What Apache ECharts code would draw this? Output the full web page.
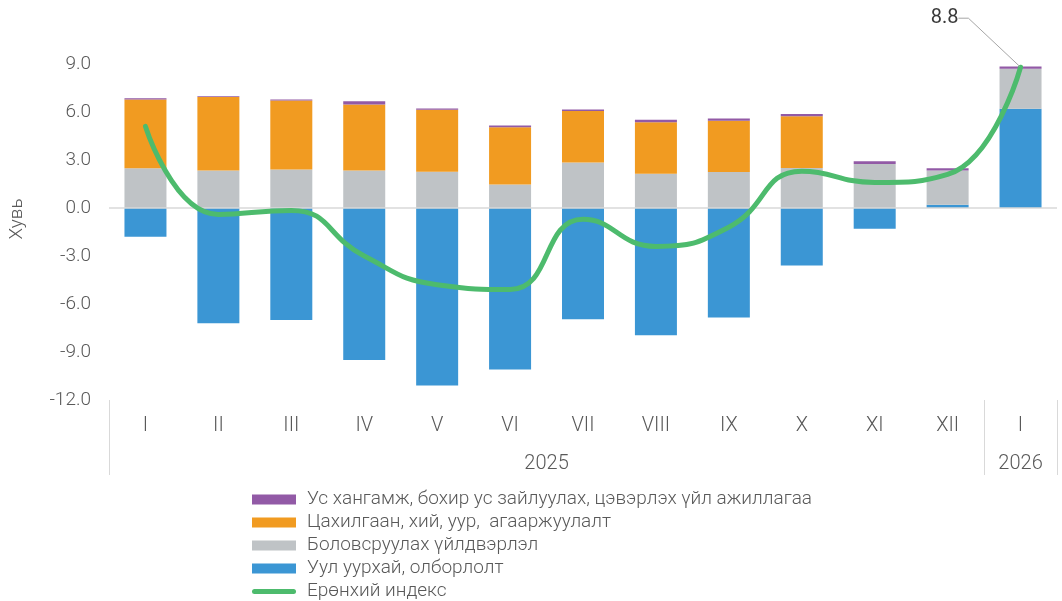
<!DOCTYPE html>
<html>
<head>
<meta charset="utf-8">
<script src="https://cdn.jsdelivr.net/npm/echarts@6/dist/echarts.min.js"></script>
<style>
  html, body { margin: 0; padding: 0; background: #ffffff; }
  #chart { width: 1062px; height: 601px; }
</style>
</head>
<body>
<div id="chart"></div>
<script>
// Month categories and the year groups they belong to
const months = ['I', 'II', 'III', 'IV', 'V', 'VI', 'VII', 'VIII', 'IX', 'X', 'XI', 'XII', 'I'];
const years = ['2025', '2026'];
const yearSpans = [12, 1];

// Contributions by sector, percentage points
const mining = [-1.8, -7.2, -7.0, -9.5, -11.1, -10.1, -6.95, -7.95, -6.85, -3.6, -1.3, 0.2, 6.2];
const manufacturing = [2.49, 2.34, 2.4, 2.34, 2.26, 1.47, 2.84, 2.14, 2.25, 2.5, 2.75, 2.14, 2.5];
const electricity = [4.29, 4.59, 4.32, 4.13, 3.88, 3.58, 3.23, 3.22, 3.2, 3.23, 0, 0, 0];
const water = [0.08, 0.06, 0.06, 0.2, 0.08, 0.11, 0.09, 0.15, 0.15, 0.14, 0.17, 0.15, 0.14];

// Overall index, %
const total = [5.1, -0.4, -0.15, -3.0, -4.8, -5.1, -0.7, -2.4, -1.2, 2.3, 1.6, 2.1, 8.8];

const names = {
  water: 'Ус хангамж, бохир ус зайлуулах, цэвэрлэх үйл ажиллагаа',
  electricity: 'Цахилгаан, хий, уур,  агааржуулалт',
  manufacturing: 'Боловсруулах үйлдвэрлэл',
  mining: 'Уул уурхай, олборлолт',
  total: 'Ерөнхий индекс'
};

const colors = {
  water: '#925aa6',
  electricity: '#f19b21',
  manufacturing: '#bfc3c6',
  mining: '#3b96d4',
  total: '#4dbb6d'
};

// Year group boundaries and label positions on a 0..N scale
const yearBounds = [0];
const yearMids = [];
yearSpans.forEach((s) => {
  const start = yearBounds[yearBounds.length - 1];
  yearMids.push(start + s / 2);
  yearBounds.push(start + s);
});

const FONT = 'Roboto, "Noto Sans", sans-serif';
const WEIGHT = 300;
const TEXT = '#595959';

// Legend key for the index: a thick rounded stroke centred in the 44x10 key box
const LINE_KEY = 'path://M0,0 M44,10 M2.5,2.5 H41.5 A2.5,2.5 0 0 1 41.5,7.5 H2.5 A2.5,2.5 0 0 1 2.5,2.5 Z';

const chart = echarts.init(document.getElementById('chart'), null, { renderer: 'canvas' });

function barSeries(key, data, extra) {
  return Object.assign({
    name: names[key],
    type: 'bar',
    stack: 'sectors',
    data: data,
    barWidth: 42,
    xAxisIndex: 0,
    itemStyle: { color: colors[key] },
    emphasis: { disabled: true }
  }, extra || {});
}

const lastIdx = total.length - 1;

const option = {
  animation: false,
  backgroundColor: '#ffffff',
  textStyle: { fontFamily: FONT, fontWeight: WEIGHT },
  grid: { left: 108, right: 5, top: 64, bottom: 201 },
  legend: {
    orient: 'vertical',
    left: 252,
    top: 490,
    padding: 0,
    itemGap: 4,
    itemWidth: 44,
    itemHeight: 10,
    textStyle: { fontFamily: FONT, fontWeight: WEIGHT, fontSize: 19, color: TEXT, lineHeight: 19, padding: [0, 0, 0, 6] },
    data: [
      { name: names.water, icon: 'rect' },
      { name: names.electricity, icon: 'rect' },
      { name: names.manufacturing, icon: 'rect' },
      { name: names.mining, icon: 'rect' },
      { name: names.total, icon: LINE_KEY, itemStyle: { color: colors.total, borderWidth: 0 } }
    ]
  },
  xAxis: [
    {
      type: 'category',
      data: months,
      position: 'bottom',
      axisLine: { show: false },
      axisTick: { show: false },
      axisLabel: { margin: 16, fontFamily: FONT, fontWeight: WEIGHT, fontSize: 20, color: TEXT }
    },
    {
      type: 'value',
      min: yearBounds[0],
      max: yearBounds[yearBounds.length - 1],
      position: 'bottom',
      axisLine: { show: false },
      splitLine: { show: false },
      axisTick: {
        show: true,
        customValues: yearBounds,
        length: 75,
        lineStyle: { color: '#d9d9d9', width: 1 }
      },
      axisLabel: {
        customValues: yearMids,
        margin: 54,
        fontFamily: FONT,
        fontWeight: WEIGHT,
        fontSize: 20,
        color: TEXT,
        formatter: (v) => {
          const i = yearMids.indexOf(v);
          return i >= 0 ? years[i] : '';
        }
      }
    }
  ],
  yAxis: {
    type: 'value',
    min: -12,
    max: 9,
    interval: 3,
    name: 'Хувь',
    nameLocation: 'middle',
    nameGap: 82,
    nameRotate: 90,
    nameTextStyle: { fontFamily: FONT, fontWeight: WEIGHT, fontSize: 19, color: TEXT, padding: [0, 0, 0, 26] },
    axisLine: { show: false },
    axisTick: { show: false },
    splitLine: { show: false },
    axisLabel: {
      margin: 18,
      fontFamily: FONT,
      fontWeight: WEIGHT,
      fontSize: 19,
      color: TEXT,
      formatter: (v) => v.toFixed(1)
    }
  },
  series: [
    barSeries('mining', mining, {
      markLine: {
        silent: true,
        symbol: 'none',
        label: { show: false },
        lineStyle: { color: '#d9d9d9', width: 1.5, type: 'solid' },
        data: [{ yAxis: 0 }]
      }
    }),
    barSeries('manufacturing', manufacturing),
    barSeries('electricity', electricity),
    barSeries('water', water),
    {
      name: names.total,
      type: 'line',
      xAxisIndex: 0,
      z: 5,
      smooth: true,
      symbol: 'none',
      lineStyle: { color: colors.total, width: 5, cap: 'round' },
      itemStyle: { color: colors.total },
      emphasis: { disabled: true },
      // only the latest point carries a (tiny) marker so its value label can be drawn
      data: total.map((v, i) => i === lastIdx ? {
        value: v,
        symbol: 'circle',
        symbolSize: 2,
        label: {
          show: true,
          position: 'top',
          formatter: (p) => p.value.toFixed(1),
          fontFamily: FONT,
          fontWeight: 400,
          fontSize: 20,
          color: '#3a3a3a'
        },
        labelLine: { show: true, length2: 10, lineStyle: { color: '#a6a6a6', width: 1 } }
      } : v),
      labelLayout: { dx: -76, dy: -33 },
      labelLine: { show: true, length2: 10, lineStyle: { color: '#a6a6a6', width: 1 } }
    }
  ]
};

chart.setOption(option);
</script>
</body>
</html>
